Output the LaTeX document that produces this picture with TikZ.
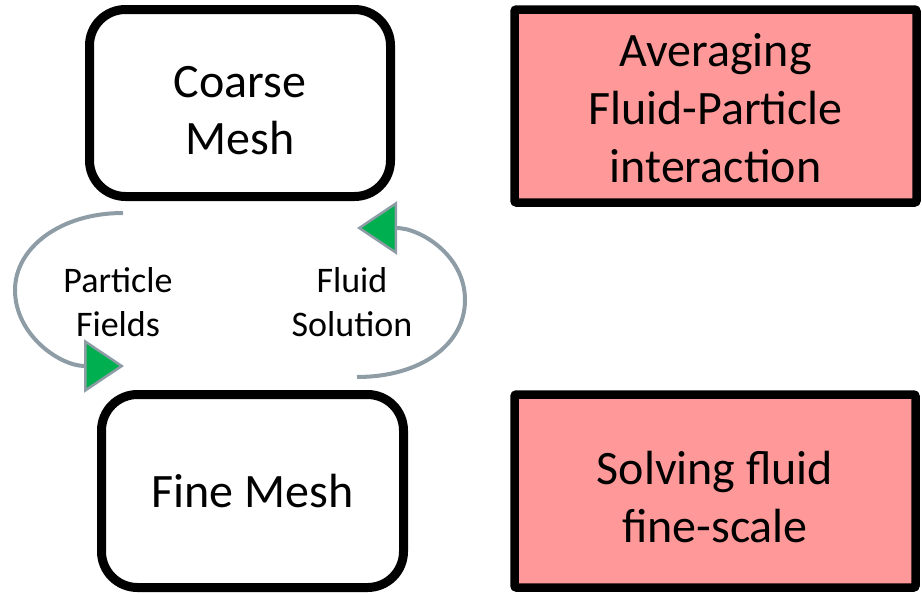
\documentclass[tikz,border=0pt]{standalone}
\usepackage{fontspec}
\setmainfont{Carlito}
\usetikzlibrary{arrows.meta}
\definecolor{pinkfill}{RGB}{255,153,153}
\definecolor{arcgray}{RGB}{142,156,166}
\definecolor{tipgreen}{RGB}{0,176,80}
\begin{document}
\begin{tikzpicture}[x=1pt,y=-1pt,
  meshbox/.style={draw=black, line width=9pt, rounded corners=36pt, fill=white, align=center, font=\fontsize{48}{57}\selectfont, inner sep=0pt},
  taskbox/.style={draw=black, line width=8.5pt, rounded corners=2pt, fill=pinkfill, align=center, font=\fontsize{48}{58}\selectfont, inner sep=0pt},
  flowlabel/.style={align=center, font=\fontsize{36}{44}\selectfont, inner sep=0pt},
  flow/.style={draw=arcgray, line width=4pt, -{Triangle[length=40pt,width=53pt,fill=tipgreen,line width=2.5pt 0]}}
]
\useasboundingbox (0,0) rectangle (922,595);
\node[meshbox, minimum width=301pt, minimum height=187pt] (coarse) at (240,103) {\rule{0pt}{46pt}Coarse\\Mesh};
\node[meshbox, minimum width=302pt, minimum height=193pt] (fine) at (252.5,491) {Fine Mesh};
\node[taskbox, minimum width=402pt, minimum height=193pt] (avg) at (715.5,106) {\rule{0pt}{38pt}Averaging\\Fluid-Particle\\interaction};
\node[taskbox, minimum width=401pt, minimum height=193pt] (solve) at (715,491) {\rule{0pt}{46pt}Solving fluid\\fine-scale};
\node[flowlabel] (pf) at (118,302) {Particle\\Fields};
\node[flowlabel] (fs) at (352,302) {Fluid\\Solution};
\coordinate (pfstart) at (123,213);
\coordinate (pfend) at (124,366);
\coordinate (fsstart) at (357,377);
\coordinate (fsend) at (357,228);
\draw[flow] (pfstart) .. controls (60,213) and (15,248) .. (15,290) .. controls (15,335) and (60,366) .. (pfend);
\draw[flow] (fsstart) .. controls (420,377) and (465,345) .. (465,300) .. controls (465,255) and (420,228) .. (fsend);
\end{tikzpicture}
\end{document}
